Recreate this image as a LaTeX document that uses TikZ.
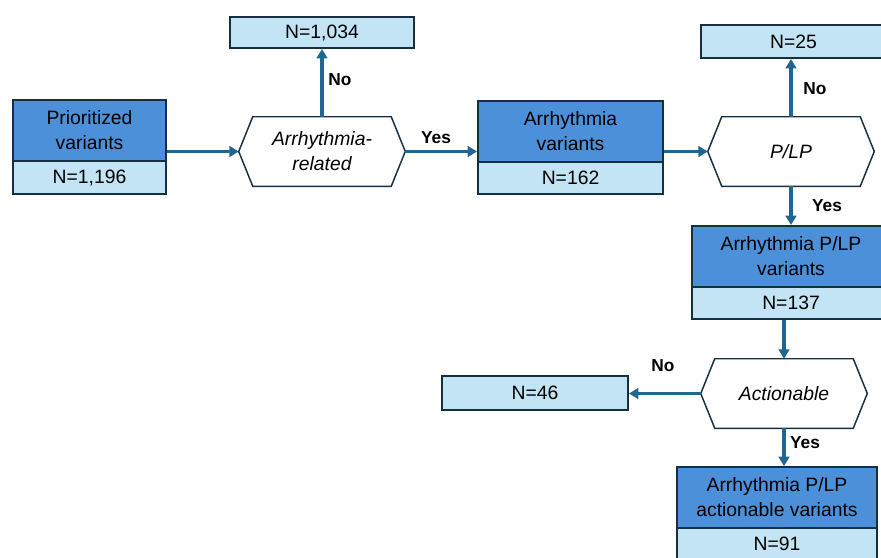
\documentclass[tikz,border=0pt]{standalone}
\usepackage{fontspec}
\setmainfont{Liberation Sans}
\usetikzlibrary{arrows.meta,calc}
\definecolor{darkbox}{HTML}{4B90D8}
\definecolor{lightbox}{HTML}{C3E4F4}
\definecolor{edge}{HTML}{16303F}
\definecolor{arrowc}{HTML}{1F6690}
\tikzset{
  boxbase/.style={draw=edge, line width=1.5pt, inner sep=0pt, align=center, text=black,
    font=\fontsize{14.5pt}{18.75pt}\selectfont},
  topbox/.style={boxbase, fill=darkbox},
  botbox/.style={boxbase, fill=lightbox},
  hexnode/.style={inner sep=0pt, align=center, text=black,
    font=\fontsize{14.5pt}{18.75pt}\selectfont\itshape,
    minimum width=124.5pt, minimum height=51.75pt},
  hexline/.style={draw=edge, line width=1.1pt, fill=white, line join=miter},
  flow/.style={draw=arrowc, line width=2.7pt, -{Triangle[length=7pt,width=8pt]}},
  lbl/.style={font=\fontsize{13pt}{15pt}\selectfont\bfseries, text=black, inner sep=0pt}
}
\newcommand{\hexof}[1]{%
  \draw[hexline] ([xshift=10.5pt]#1.north west) -- ([xshift=-10.5pt]#1.north east) -- (#1.east)
    -- ([xshift=-10.5pt]#1.south east) -- ([xshift=10.5pt]#1.south west) -- (#1.west) -- cycle;}
\begin{document}
\begin{tikzpicture}[x=0.75pt,y=-0.75pt]
\useasboundingbox (0,0) rectangle (881,557);
\clip (0,0) rectangle (881,557);
% boxes
\node[topbox, minimum width=114.75pt, minimum height=45.75pt] (p1) at (89.5,130.5) {Prioritized\\variants};
\node[botbox, minimum width=114.75pt, minimum height=24.75pt] (p2) at (89.5,177.5) {N=1,196};
\node[botbox, minimum width=138pt, minimum height=23.25pt] (n1034) at (322,32.5) {N=1,034};
\node[topbox, minimum width=138.75pt, minimum height=45.75pt] (a1) at (570.5,131.5) {Arrhythmia\\variants};
\node[botbox, minimum width=138.75pt, minimum height=24pt] (a2) at (570.5,178) {N=162};
\node[botbox, minimum width=138.75pt, minimum height=24.75pt] (n25) at (793.5,41.5) {N=25};
\node[topbox, minimum width=148.5pt, minimum height=45.75pt] (b1) at (791,256.5) {Arrhythmia P/LP\\variants};
\node[botbox, minimum width=148.5pt, minimum height=24pt] (b2) at (791,303) {N=137};
\node[botbox, minimum width=139.5pt, minimum height=25.5pt] (n46) at (535,393) {N=46};
\node[topbox, minimum width=150pt, minimum height=45.75pt] (f1) at (777,497.5) {Arrhythmia P/LP\\actionable variants};
\node[botbox, minimum width=150pt, minimum height=24pt] (f2) at (777,544) {N=91};
% hexagons
\node[hexnode] (h1) at (322,151.5) {};
\hexof{h1}
\node[hexnode] (t1) at (h1) {Arrhythmia-\\related};
\node[hexnode] (h2) at (791,151.5) {};
\hexof{h2}
\node[hexnode] (t2) at (h2) {P/LP};
\node[hexnode] (h3) at (784,393.5) {};
\hexof{h3}
\node[hexnode] (t3) at (h3) {Actionable};
% connectors
\draw[flow] (p1.east |- h1.west) -- (h1.west);
\draw[flow] (h1.north) -- (n1034.south);
\draw[flow] (h1.east) -- (a1.west |- h1.east);
\draw[flow] (a1.east |- h2.west) -- (h2.west);
\draw[flow] (h2.north) -- (h2.north |- n25.south);
\draw[flow] (h2.south) -- (h2.south |- b1.north);
\draw[flow] (h3.north |- b2.south) -- (h3.north);
\draw[flow] (h3.west) -- (n46.east |- h3.west);
\draw[flow] (h3.south) -- (h3.south |- f1.north);
% labels
\node[lbl] (l1) at (340,80) {No};
\node[lbl] (l2) at (436,138) {Yes};
\node[lbl] (l3) at (815,89) {No};
\node[lbl] (l4) at (827,206) {Yes};
\node[lbl] (l5) at (663,366) {No};
\node[lbl] (l6) at (805,443) {Yes};
\end{tikzpicture}
\end{document}
